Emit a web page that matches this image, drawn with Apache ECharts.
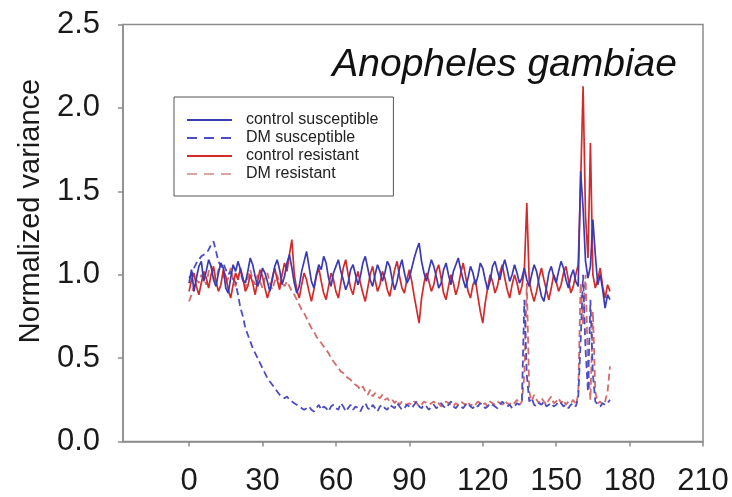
<!DOCTYPE html>
<html>
<head>
<meta charset="utf-8">
<script src="https://cdn.jsdelivr.net/npm/echarts@6/dist/echarts.min.js"></script>
<style>html,body{margin:0;padding:0;background:#fff;}#c{width:732px;height:497px;}</style>
</head>
<body>
<div id="c"></div>
<script>
// time points are 0,1,2,... (one value per unit of x)
var xTicks = [0, 30, 60, 90, 120, 150, 180, 210];
var yTicks = [0, 0.5, 1.0, 1.5, 2.0, 2.5];
var seriesNames = ['control susceptible', 'DM susceptible', 'control resistant', 'DM resistant'];

var controlSusceptible = [
0.95,1.03,0.90,0.98,1.05,1.08,0.96,1.02,1.09,1.05,
0.97,0.93,1.01,1.07,1.04,0.92,0.89,0.98,1.06,1.02,
1.08,1.03,0.97,0.95,1.02,1.10,1.06,0.99,0.93,0.97,
1.04,1.01,0.96,0.90,0.97,1.05,1.09,1.03,0.94,0.99,
1.07,1.12,1.04,0.95,0.89,0.93,1.02,1.08,1.14,1.05,
0.96,0.92,1.00,1.06,1.03,1.11,1.07,0.98,0.93,1.01,
1.05,1.09,1.02,0.97,0.91,0.95,1.03,1.06,1.00,0.94,
0.99,1.07,1.11,1.04,0.97,0.93,1.00,1.06,1.02,0.96,
1.01,1.08,1.05,0.97,0.91,0.96,1.04,1.09,1.01,0.95,
0.98,1.04,1.10,1.15,1.19,1.08,1.01,0.96,1.03,1.09,
1.05,0.99,0.92,0.95,1.03,1.07,1.00,0.94,1.02,1.06,
1.10,1.03,0.97,0.92,0.98,1.05,1.01,0.94,0.99,1.07,
1.04,0.97,0.91,0.96,1.05,1.08,1.02,0.97,1.04,1.09,
1.03,0.96,1.00,1.06,1.01,0.95,0.98,1.04,0.97,0.93,
1.00,1.06,1.02,0.94,0.87,0.84,0.92,1.01,1.05,0.99,
0.95,1.02,1.08,1.04,0.97,0.92,0.99,1.03,0.96,0.93,
1.62,1.40,1.08,0.98,1.05,1.33,1.12,0.94,1.00,0.91,
0.80,0.88,0.85];

var dmSusceptible = [
0.98,1.00,1.04,1.07,1.09,1.11,1.12,1.13,1.15,1.18,
1.20,1.14,1.08,1.05,1.07,1.03,1.00,1.02,0.98,0.95,
0.88,0.80,0.75,0.68,0.64,0.60,0.56,0.53,0.50,0.47,
0.44,0.41,0.38,0.36,0.34,0.32,0.30,0.28,0.27,0.26,
0.27,0.25,0.24,0.23,0.22,0.21,0.20,0.19,0.20,0.21,
0.19,0.18,0.20,0.22,0.19,0.21,0.20,0.18,0.21,0.22,
0.20,0.19,0.23,0.21,0.18,0.20,0.22,0.19,0.21,0.20,
0.18,0.21,0.23,0.20,0.19,0.22,0.20,0.18,0.21,0.22,
0.20,0.19,0.22,0.21,0.20,0.23,0.21,0.19,0.20,0.22,
0.21,0.20,0.22,0.24,0.21,0.20,0.22,0.21,0.19,0.21,
0.22,0.20,0.21,0.23,0.21,0.20,0.22,0.24,0.21,0.20,
0.22,0.21,0.20,0.22,0.23,0.21,0.20,0.22,0.21,0.23,
0.22,0.20,0.21,0.23,0.22,0.21,0.20,0.22,0.24,0.22,
0.21,0.22,0.20,0.21,0.23,0.22,0.25,0.85,0.40,0.24,
0.26,0.22,0.21,0.23,0.22,0.24,0.21,0.22,0.23,0.21,
0.22,0.24,0.23,0.21,0.22,0.20,0.22,0.23,0.21,0.26,
0.60,1.00,0.55,0.30,0.85,0.40,0.24,0.22,0.21,0.23,
0.22,0.23,0.25];

var controlResistant = [
0.90,0.97,1.01,0.93,0.88,0.95,1.02,0.98,0.92,1.00,
1.05,0.96,0.90,0.94,1.03,0.99,0.91,0.86,0.94,1.01,
0.97,1.04,0.98,0.90,0.93,1.00,0.95,0.88,0.96,1.03,
0.99,0.92,0.86,0.91,0.98,1.04,0.97,0.91,1.00,1.07,
1.02,1.12,1.21,1.00,0.91,0.86,0.94,1.01,0.97,0.90,
0.84,0.91,0.99,1.04,0.96,0.89,0.85,0.93,1.01,0.97,
0.90,0.86,0.95,1.04,1.09,1.00,0.92,0.88,0.96,1.02,
0.95,0.89,0.84,0.92,1.00,1.05,0.97,0.90,0.94,1.02,
0.98,0.91,0.87,0.95,1.03,1.08,0.99,0.92,0.89,0.97,
1.03,0.96,0.87,0.79,0.71,0.86,0.95,1.01,0.96,0.90,
0.94,1.02,1.06,0.98,0.89,0.85,0.93,1.00,0.95,0.88,
0.93,1.01,1.07,0.99,0.90,0.86,0.94,0.97,0.87,0.78,
0.71,0.83,0.92,1.00,0.96,0.89,0.93,1.01,1.06,0.98,
0.91,0.86,0.94,1.00,0.95,0.88,0.93,1.03,1.43,0.96,
0.89,0.84,0.90,0.98,1.04,0.97,0.91,0.85,0.92,1.00,
0.96,0.90,0.94,1.01,1.05,0.97,0.89,0.93,1.00,1.06,
1.55,2.13,1.35,1.10,1.79,1.00,0.92,0.97,1.04,0.93,
0.86,0.94,0.90];

var dmResistant = [
0.84,0.88,0.93,0.97,0.95,1.00,0.98,0.94,1.02,1.05,
0.99,0.96,1.03,1.07,1.00,0.95,0.98,1.04,0.97,0.93,
0.99,1.02,0.96,0.92,0.98,1.03,0.97,0.94,1.00,0.96,
0.92,0.98,1.01,0.95,0.91,0.96,1.00,0.94,0.97,0.93,
0.96,0.93,0.90,0.88,0.85,0.82,0.79,0.77,0.74,0.71,
0.68,0.66,0.63,0.61,0.59,0.57,0.55,0.53,0.50,0.48,
0.46,0.44,0.42,0.41,0.39,0.38,0.37,0.35,0.34,0.33,
0.31,0.33,0.30,0.28,0.31,0.27,0.29,0.27,0.26,0.28,
0.25,0.26,0.24,0.25,0.23,0.25,0.22,0.24,0.23,0.22,
0.23,0.22,0.24,0.23,0.21,0.22,0.24,0.23,0.22,0.23,
0.24,0.22,0.23,0.21,0.22,0.24,0.23,0.22,0.21,0.23,
0.22,0.24,0.23,0.22,0.24,0.21,0.23,0.22,0.24,0.23,
0.22,0.23,0.21,0.24,0.23,0.22,0.24,0.23,0.22,0.24,
0.23,0.22,0.24,0.23,0.25,0.22,0.24,0.40,0.95,0.30,
0.24,0.28,0.25,0.23,0.26,0.24,0.22,0.25,0.27,0.23,
0.24,0.26,0.23,0.25,0.22,0.24,0.23,0.25,0.22,0.28,
0.95,0.70,1.00,0.45,0.25,0.78,0.30,0.23,0.24,0.22,
0.24,0.30,0.45];

function pairs(arr) { return arr.map(function (v, i) { return [i, v]; }); }

var FONT = '"Liberation Sans", Arial, Helvetica, sans-serif';
var AXIS_GRAY = '#8c8c8c';

var chart = echarts.init(document.getElementById('c'), null, { renderer: 'canvas' });
chart.setOption({
  animation: false,
  backgroundColor: '#ffffff',
  grid: {
    left: 123, right: 29, top: 24.5, bottom: 55.5,
    show: true, borderColor: AXIS_GRAY, borderWidth: 1.5, backgroundColor: 'transparent'
  },
  legend: {
    show: true,
    orient: 'vertical',
    left: 174, top: 97,
    padding: [15, 15, 14, 12],
    itemGap: 2,
    itemWidth: 45, itemHeight: 14,
    borderColor: '#555', borderWidth: 1,
    backgroundColor: '#fff',
    itemStyle: { color: 'transparent', borderColor: 'transparent', borderWidth: 0, opacity: 0 },
    formatter: function (name) { return '  ' + name; },
    textStyle: { fontFamily: FONT, fontSize: 16, color: '#222' },
    data: [
      { name: seriesNames[0] },
      { name: seriesNames[1], lineStyle: { type: [10, 7] } },
      { name: seriesNames[2] },
      { name: seriesNames[3], lineStyle: { color: '#dba5a5', type: [10, 7] } }
    ]
  },
  xAxis: {
    type: 'value', min: -27, max: 210,
    splitLine: { show: false },
    axisLine: { show: true, onZero: false, lineStyle: { color: AXIS_GRAY, width: 1.5 } },
    axisTick: { show: true, inside: false, length: 5, customValues: xTicks, lineStyle: { color: AXIS_GRAY, width: 1.5 } },
    axisLabel: { customValues: xTicks, margin: 24, fontFamily: FONT, fontSize: 31, color: '#1a1a1a' }
  },
  yAxis: {
    type: 'value', min: 0, max: 2.5, interval: 0.5,
    splitLine: { show: false },
    axisLine: { show: true, onZero: false, lineStyle: { color: AXIS_GRAY, width: 1.5 } },
    axisTick: { show: true, inside: false, length: 5, lineStyle: { color: AXIS_GRAY, width: 1.5 } },
    axisLabel: { margin: 23, fontFamily: FONT, fontSize: 31, color: '#1a1a1a',
      formatter: function (v) { return v.toFixed(1); } }
  },
  graphic: [
    { type: 'text', x: 31, y: 211, rotation: Math.PI / 2,
      style: { text: 'Normalized variance', fontFamily: FONT, fontSize: 29, fill: '#1a1a1a',
        textAlign: 'center', textVerticalAlign: 'middle' } },
    { type: 'text', x: 677, y: 65,
      style: { text: 'Anopheles gambiae', fontFamily: FONT, fontStyle: 'italic', fontSize: 39, fill: '#111',
        textAlign: 'right', textVerticalAlign: 'middle' } }
  ],
  series: [
    { name: seriesNames[3], type: 'line', data: pairs(dmResistant), symbol: 'none', showSymbol: false, z: 2,
      itemStyle: { color: '#d46a6a' }, lineStyle: { color: '#d46a6a', width: 1.8, type: [7, 4] } },
    { name: seriesNames[1], type: 'line', data: pairs(dmSusceptible), symbol: 'none', showSymbol: false, z: 3,
      itemStyle: { color: '#4c4cc4' }, lineStyle: { color: '#4c4cc4', width: 1.8, type: [7, 4] } },
    { name: seriesNames[2], type: 'line', data: pairs(controlResistant), symbol: 'none', showSymbol: false, z: 4,
      itemStyle: { color: '#d42a2a' }, lineStyle: { color: '#d42a2a', width: 1.7 } },
    { name: seriesNames[0], type: 'line', data: pairs(controlSusceptible), symbol: 'none', showSymbol: false, z: 5,
      itemStyle: { color: '#3a3ab6' }, lineStyle: { color: '#3a3ab6', width: 1.7 } }
  ]
});
</script>
</body>
</html>
